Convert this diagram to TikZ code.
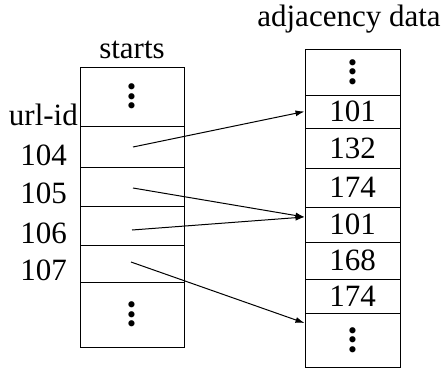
\documentclass[tikz,border=0pt]{standalone}
\usepackage{fontspec}
\setmainfont{Liberation Serif}
\usetikzlibrary{arrows.meta}
\begin{document}
\begin{tikzpicture}[x=1pt,y=-1pt]

            \tikzstyle{cellNode} = [draw, line width=1pt, inner sep=0pt, font=\fontsize{31}{31}\selectfont];
            \tikzstyle{startCell} = [cellNode, minimum width=104pt];
            \tikzstyle{adjCell} = [cellNode, minimum width=95pt];
            \tikzstyle{labelNode} = [inner sep=0pt, font=\fontsize{31}{31}\selectfont];
            \tikzstyle{pointerEdge} = [line width=1pt, -{Latex[length=9pt,width=6pt]}];

            \newcommand*\cellDots{\rotatebox{90}{\fontsize{38}{38}\selectfont\textbf{...}}}

            \useasboundingbox (0,0) rectangle (443,370);

            % starts
            \node[labelNode, anchor=base] (startsTitle) at (132,58) {starts};
            \node[startCell, minimum height=59pt] (s0) at (132,96.5) {\cellDots};
            \node[startCell, minimum height=41pt] (s1) at (132,146.5) {};
            \node[startCell, minimum height=39pt] (s2) at (132,186.5) {};
            \node[startCell, minimum height=39pt] (s3) at (132,225.5) {};
            \node[startCell, minimum height=37pt] (s4) at (132,263.5) {};
            \node[startCell, minimum height=65pt] (s5) at (132,314.5) {\cellDots};

            \node[labelNode, anchor=base east] (urlid) at (78,125) {url-id};
            \node[labelNode, anchor=base east] (u104) at (67,165) {104};
            \node[labelNode, anchor=base east] (u105) at (67,203) {105};
            \node[labelNode, anchor=base east] (u106) at (67,243) {106};
            \node[labelNode, anchor=base east] (u107) at (67,280) {107};

            % adjacency data
            \node[labelNode, anchor=base] (adjTitle) at (349,26) {adjacency data};
            \node[adjCell, minimum height=46pt] (r0) at (352.5,72) {\cellDots};
            \node[adjCell, minimum height=33pt] (r1) at (352.5,111.5) {101};
            \node[adjCell, minimum height=40pt] (r2) at (352.5,148) {132};
            \node[adjCell, minimum height=39pt] (r3) at (352.5,187.5) {174};
            \node[adjCell, minimum height=35pt] (r4) at (352.5,224.5) {101};
            \node[adjCell, minimum height=37pt] (r5) at (352.5,260.5) {168};
            \node[adjCell, minimum height=34pt] (r6) at (352.5,296) {174};
            \node[adjCell, minimum height=54pt] (r7) at (352.5,340) {\cellDots};

            % pointers
            \coordinate (p104) at (133,147);
            \coordinate (p105) at (133,188);
            \coordinate (p106) at (132,230);
            \coordinate (p107) at (131,262);

            \draw[pointerEdge] (p104) -- (r1.west);
            \draw[pointerEdge] (p105) -- ([yshift=7.5pt]r4.west);
            \draw[pointerEdge] (p106) -- ([yshift=7.5pt]r4.west);
            \draw[pointerEdge] (p107) -- ([yshift=17pt]r7.west);
          \end{tikzpicture}
\end{document}
